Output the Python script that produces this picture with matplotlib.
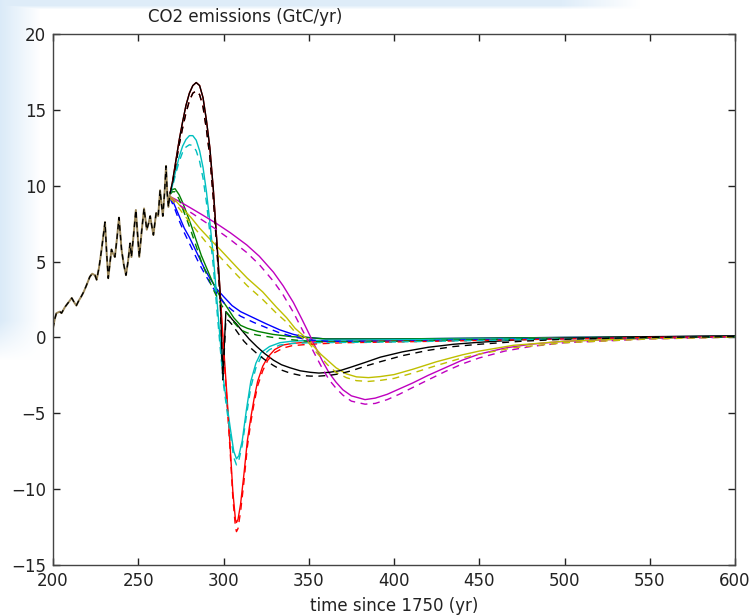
import numpy as np
import matplotlib
matplotlib.use("Agg")
import matplotlib.pyplot as plt

# ---------------- data ----------------
# historical emissions (years since 1750, GtC/yr)
hist_t = [200, 201, 202, 204, 205, 207, 209, 211, 212.5, 213.7, 215, 216.6, 218, 219.5,
          221.6, 223, 224.6, 225.6, 227, 228.5, 230.5, 231.5, 232.4, 233.3, 234.3, 235.3,
          236.3, 237.5, 238.7, 239.5, 240.2, 241.5, 242.8, 244, 245.2, 246, 247.3, 248.6,
          249.6, 250.6, 252, 253.4, 254.2, 255, 256, 257, 258, 258.9, 259.7, 260.5, 261.7,
          262.8, 263.6, 264.4, 265.4, 266.3, 267, 267.7, 268.5]
hist_e = [0.6, 1.2, 1.6, 1.7, 1.6, 2.0, 2.3, 2.6, 2.3, 2.1, 2.4, 2.7, 3.0, 3.4,
          4.0, 4.2, 4.1, 3.8, 4.6, 5.8, 7.6, 5.5, 3.9, 4.8, 5.8, 5.5,
          5.3, 6.5, 7.9, 6.8, 5.8, 4.8, 4.1, 5.0, 6.2, 5.3, 6.8, 8.4,
          6.8, 5.3, 7.0, 8.5, 7.8, 7.1, 7.5, 8.0, 7.3, 6.75, 7.5, 8.2, 8.0,
          9.7, 8.8, 8.0, 9.5, 11.3, 9.5, 8.6, 9.4]

# blue scenario
blue_t = [268.5, 271, 274, 277, 280, 283, 286, 289, 292, 296, 300, 305, 310, 317.5, 325,
          333, 341, 349, 360, 400, 450, 500, 600]
blue_solid = [9.3, 8.8, 8.0, 7.2, 6.6, 5.9, 5.2, 4.5, 3.9, 3.2, 2.7, 2.1, 1.7, 1.3, 0.9,
              0.5, 0.2, 0.0, -0.1, -0.1, -0.05, 0.0, 0.08]
blue_dash = [9.2, 8.6, 7.7, 6.9, 6.2, 5.5, 4.8, 4.2, 3.6, 2.9, 2.3, 1.8, 1.4, 1.0, 0.65,
             0.3, 0.05, -0.15, -0.25, -0.25, -0.15, -0.08, 0.05]

# green scenario
green_t = [268.5, 270, 271.6, 274, 276, 278.4, 281, 284.3, 287, 290, 293, 296, 299, 302,
           306, 310, 314, 320, 329, 340, 349, 360, 400, 450, 500, 600]
green_solid = [9.5, 9.75, 9.8, 9.4, 8.9, 8.2, 7.4, 6.3, 5.4, 4.6, 3.8, 3.1, 2.5, 2.0,
               1.3, 0.8, 0.6, 0.4, 0.2, 0.05, 0.0, -0.1, -0.1, -0.05, 0.0, 0.08]
green_dash = [9.4, 9.6, 9.6, 9.1, 8.5, 7.8, 7.0, 5.9, 5.0, 4.2, 3.4, 2.7, 2.1, 1.6,
              1.0, 0.5, 0.3, 0.15, 0.0, -0.15, -0.25, -0.3, -0.25, -0.15, -0.08, 0.05]

# red scenario
red_t = [268.5, 270, 272, 274, 276, 278, 280, 282, 284, 286, 288, 290, 292, 294, 296, 298,
         300, 302, 304, 305.5, 307, 307.6, 308.5, 310, 312, 314, 316, 318, 320, 323, 326,
         330, 335, 340, 350, 370, 400, 450, 500, 550, 600]
red_solid = [9.4, 10.2, 11.6, 13.0, 14.2, 15.3, 16.1, 16.6, 16.8, 16.6, 15.8, 14.3, 12.5,
             9.8, 6.5, 3.0, -0.5, -3.8, -7.4, -10.2, -12.0, -12.2, -12.0, -11.0, -9.0,
             -6.8, -5.3, -4.0, -2.9, -1.9, -1.3, -0.8, -0.5, -0.4, -0.3, -0.25, -0.2,
             -0.12, -0.05, 0.02, 0.08]
red_dash = [9.4, 10.1, 11.4, 12.7, 13.8, 14.8, 15.6, 16.1, 16.25, 16.0, 15.2, 13.7, 11.9,
            9.2, 6.0, 2.6, -0.9, -4.1, -7.7, -10.6, -12.5, -12.8, -12.6, -11.5, -9.5,
            -7.2, -5.6, -4.3, -3.2, -2.2, -1.5, -1.0, -0.7, -0.55, -0.45, -0.35, -0.3,
            -0.2, -0.1, 0.0, 0.05]

# cyan scenario
cyan_t = [268.5, 270, 272, 274, 276, 278, 280, 282, 284, 286, 288, 290, 292, 294, 296, 298,
          300, 302, 304, 306, 307.6, 309, 311, 313.4, 316, 319, 322, 327, 333, 340, 350,
          400, 450, 500, 550, 600]
cyan_solid = [9.4, 10.0, 11.0, 11.9, 12.6, 13.05, 13.3, 13.3, 13.0, 12.3, 11.2, 9.6, 7.6,
              5.4, 2.7, -0.1, -2.8, -4.4, -6.0, -7.5, -8.0, -7.8, -6.8, -4.8, -2.9,
              -1.7, -1.0, -0.6, -0.35, -0.25, -0.2, -0.15, -0.1, -0.05, 0.02, 0.08]
cyan_dash = [9.4, 9.9, 10.8, 11.6, 12.2, 12.55, 12.7, 12.65, 12.3, 11.6, 10.5, 8.9, 6.9,
             4.7, 2.0, -0.6, -3.1, -4.8, -6.4, -7.9, -8.4, -8.1, -7.1, -5.2, -3.3,
             -2.0, -1.3, -0.8, -0.5, -0.4, -0.35, -0.3, -0.2, -0.1, -0.02, 0.04]

# magenta scenario
mag_t = [268.5, 276.4, 282, 288, 296, 304, 313.6, 321, 329.3, 335, 341, 346, 350.8, 354,
         358, 362, 366, 370, 375, 383, 389, 396, 403, 411, 420, 430, 440, 450, 465, 480,
         500, 550, 600]
mag_solid = [9.3, 8.82, 8.45, 8.05, 7.5, 6.9, 6.1, 5.35, 4.3, 3.4, 2.3, 1.2, 0.1, -0.65,
             -1.55, -2.35, -2.95, -3.45, -3.85, -4.1, -4.0, -3.75, -3.4, -3.0, -2.5, -2.0,
             -1.5, -1.1, -0.7, -0.45, -0.25, -0.05, 0.05]
mag_dash = [9.2, 8.55, 8.15, 7.7, 7.1, 6.45, 5.6, 4.8, 3.7, 2.8, 1.65, 0.55, -0.5, -1.2,
            -2.05, -2.8, -3.35, -3.8, -4.2, -4.4, -4.35, -4.1, -3.75, -3.3, -2.8, -2.25,
            -1.75, -1.35, -0.9, -0.6, -0.35, -0.1, 0.02]

# yellow scenario
yel_t = [268.5, 272, 276, 281, 286, 291, 298, 308, 314, 323, 331, 337, 342, 346, 350, 353,
         357, 361, 366, 372, 378, 385, 392, 400, 411, 425, 440, 450, 470, 500, 550, 600]
yel_solid = [9.3, 9.0, 8.5, 7.9, 7.2, 6.6, 5.8, 4.6, 3.9, 3.0, 2.0, 1.3, 0.6, 0.2, -0.2,
             -0.6, -1.1, -1.5, -2.0, -2.4, -2.6, -2.65, -2.58, -2.45, -2.1, -1.6, -1.15,
             -0.9, -0.52, -0.25, -0.05, 0.05]
yel_dash = [9.2, 8.8, 8.2, 7.5, 6.8, 6.1, 5.3, 4.1, 3.4, 2.5, 1.6, 1.0, 0.35, 0.0, -0.35,
            -0.8, -1.3, -1.8, -2.3, -2.65, -2.85, -2.9, -2.83, -2.7, -2.35, -1.85, -1.35,
            -1.1, -0.68, -0.35, -0.1, 0.02]

# black scenario
blk_t = [268.5, 270, 272, 274, 276, 278, 280, 282, 284, 286, 288, 290, 292, 294, 296, 298,
         299.6, 301.4, 303, 305, 307.5, 309.7, 312, 315, 319.5, 324, 329.3, 334, 339, 345,
         351, 356, 362, 368, 375, 383, 392, 405, 420, 435, 450, 475, 500, 550, 600]
blk_solid = [9.4, 10.2, 11.6, 13.0, 14.2, 15.3, 16.1, 16.6, 16.8, 16.6, 15.8, 14.3, 12.5,
             9.8, 6.5, 3.0, -2.6, 1.7, 1.5, 1.2, 0.9, 0.6, 0.3, -0.1, -0.6, -1.05, -1.5,
             -1.8, -2.0, -2.2, -2.3, -2.35, -2.3, -2.2, -1.95, -1.65, -1.3, -0.95, -0.65,
             -0.45, -0.32, -0.15, -0.05, 0.05, 0.1]
blk_dash = [9.4, 10.1, 11.4, 12.7, 13.8, 14.8, 15.6, 16.1, 16.25, 16.0, 15.2, 13.7, 11.9,
            9.2, 6.0, 2.6, -2.8, 1.2, 1.1, 0.85, 0.45, 0.1, -0.25, -0.6, -1.05, -1.45,
            -1.85, -2.15, -2.35, -2.5, -2.55, -2.55, -2.5, -2.4, -2.2, -1.9, -1.6, -1.2,
            -0.85, -0.6, -0.45, -0.25, -0.12, 0.0, 0.05]

scenarios = [
    ("b", blue_t, blue_solid, blue_dash),
    ("g", green_t, green_solid, green_dash),
    ("r", red_t, red_solid, red_dash),
    ("c", cyan_t, cyan_solid, cyan_dash),
    ("m", mag_t, mag_solid, mag_dash),
    ("y", yel_t, yel_solid, yel_dash),
    ("k", blk_t, blk_solid, blk_dash),
]

x_ticks = [200, 250, 300, 350, 400, 450, 500, 550, 600]
y_ticks = [-15, -10, -5, 0, 5, 10, 15, 20]

# ---------------- figure ----------------
W, H = 756, 616
fig = plt.figure(figsize=(W / 100, H / 100), dpi=100)
fig.patch.set_facecolor("white")

# faint blue page tint around the top-left edges
bg = fig.add_axes([0, 0, 1, 1], zorder=-5)
bg.set_axis_off()
yy, xx = np.mgrid[0:H, 0:W]
left = np.clip((40 - xx) / 40.0, 0, 1) * np.clip((360 - yy) / 40.0, 0, 1)
top = np.clip((9 - yy) / 4.0, 0, 1) * np.clip((640 - xx) / 80.0, 0, 1)
alpha = np.maximum(left * 0.9, top * 0.8)
tint = np.array([0.84, 0.91, 0.97])
img = np.ones((H, W, 3)) * (1 - alpha[..., None]) + tint * alpha[..., None]
bg.imshow(img, extent=[0, 1, 0, 1], aspect="auto", origin="upper")

ax = fig.add_axes([53 / W, 1 - 565 / H, (735 - 53) / W, (565 - 34) / H])
ax.set_facecolor("white")

lw = 1.0
for col, t, s, d in scenarios:
    ax.plot(t, s, color=col, lw=lw, solid_capstyle="butt")
for col, t, s, d in scenarios:
    ax.plot(t, d, color=col, lw=lw, linestyle=(0, (5, 4)))

ax.plot(hist_t, hist_e, color="#9a8658", lw=1.4)
ax.plot(hist_t, hist_e, color="k", lw=1.0, linestyle=(0, (4, 3)))

ax.set_xlim(200, 600)
ax.set_ylim(-15, 20)
ax.set_xticks(x_ticks)
ax.set_yticks(y_ticks)
ax.tick_params(direction="in", length=5, width=1, top=True, right=True,
               labelsize=12, pad=5, colors="#222222")
for sp in ax.spines.values():
    sp.set_color("#444444")
    sp.set_linewidth(1.0)

ax.text(0.282, 1.032, "CO2 emissions (GtC/yr)", transform=ax.transAxes,
        ha="center", va="center", fontsize=12, color="#222222")
ax.set_xlabel("time since 1750 (yr)", fontsize=12, color="#222222")
ax.xaxis.set_label_coords(0.5, -0.06)
ax.xaxis.label.set_va("top")

fig.savefig("out.png", dpi=100)
